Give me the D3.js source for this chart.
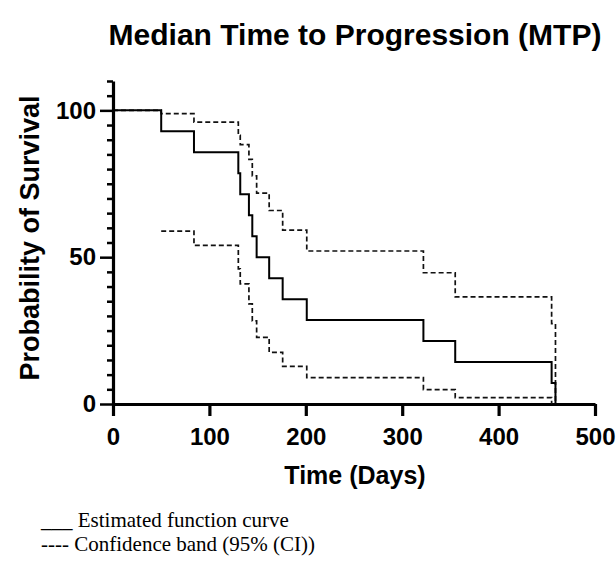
<!DOCTYPE html>
<html>
<head>
<meta charset="utf-8">
<script src="https://cdn.jsdelivr.net/npm/d3@7"></script>
<style>
  body { margin: 0; background: #fff; }
  .axis text { font-family: "Liberation Sans", Arial, sans-serif; font-weight: bold; font-size: 24px; fill: #000; }
</style>
</head>
<body>
<div id="chart"></div>
<script>
// step times (days) and survival values
let times = [0, 50, 84, 130, 132, 141, 144.5, 149, 162, 176, 201, 322, 355, 455, 459];
let estimate = [100, 92.86, 85.71, 78.57, 71.43, 64.29, 57.14, 50, 42.86, 35.71, 28.57, 21.43, 14.29, 7.14, 0];
let upperBand = [100, 98.9, 96.0, 91.5, 88.3, 83.3, 77.7, 71.8, 65.9, 59.2, 52.1, 44.7, 36.5, 27.4, 0];
let lowerBand = [null, 58.9, 54.0, 46.0, 40.9, 34.1, 28.3, 22.7, 17.6, 12.8, 9.0, 4.9, 2.2, 0, null];
let xTicks = [0, 100, 200, 300, 400, 500];
let yTicks = d3.range(0, 111, 5);
let yLabels = [0, 50, 100];

let W = 616, H = 561;

let svg = d3.select("#chart").append("svg")
  .attr("width", W)
  .attr("height", H);

let xScale = d3.scaleLinear().domain([0, 500]).range([113, 595]);
let yScale = d3.scaleLinear().domain([0, 110]).range([404, 81]);

// title
svg.append("text")
  .text("Median Time to Progression (MTP)")
  .attr("x", 355)
  .attr("y", 45)
  .attr("text-anchor", "middle")
  .style("font-family", "'Liberation Sans', Arial, sans-serif")
  .style("font-weight", "bold")
  .style("font-size", "30px");

// x axis
let xAxis = d3.axisBottom(xScale).tickValues(xTicks).tickSize(12).tickSizeOuter(0).tickPadding(12);
let xAxisGroup = svg.append("g")
  .attr("class", "axis")
  .attr("transform", "translate(0," + yScale(0) + ")")
  .call(xAxis);
xAxisGroup.selectAll("line, path").attr("stroke", "#000").attr("stroke-width", 3.2);

// y axis
let yAxis = d3.axisLeft(yScale).tickValues(yTicks).tickSizeOuter(0)
  .tickFormat(d => yLabels.includes(d) ? d : "");
let yAxisGroup = svg.append("g")
  .attr("class", "axis")
  .attr("transform", "translate(" + xScale(0) + ",0)")
  .call(yAxis);
yAxisGroup.selectAll("path").attr("stroke", "#000").attr("stroke-width", 3.2);
yAxisGroup.selectAll(".tick line")
  .attr("stroke", "#000")
  .attr("stroke-width", 2.5)
  .attr("x2", d => yLabels.includes(d) ? -13 : -6);
yAxisGroup.selectAll(".tick text").attr("x", -17);

// axis titles
svg.append("text")
  .text("Time (Days)")
  .attr("x", 355)
  .attr("y", 484)
  .attr("text-anchor", "middle")
  .style("font-family", "'Liberation Sans', Arial, sans-serif")
  .style("font-weight", "bold")
  .style("font-size", "25px");

svg.append("text")
  .text("Probability of Survival")
  .attr("transform", "translate(39,238) rotate(-90)")
  .attr("text-anchor", "middle")
  .style("font-family", "'Liberation Sans', Arial, sans-serif")
  .style("font-weight", "bold")
  .style("font-size", "27px");

// curves
let points = function(values){
  return times.map((t, i) => ({t: t, v: values[i]}));
};
let stepLine = d3.line()
  .defined(d => d.v != null)
  .x(d => xScale(d.t))
  .y(d => yScale(d.v))
  .curve(d3.curveStepAfter);

svg.append("path")
  .datum(points(upperBand))
  .attr("d", stepLine)
  .attr("fill", "none")
  .attr("stroke", "#111")
  .attr("stroke-width", 1.7)
  .attr("stroke-dasharray", "5,3");

svg.append("path")
  .datum(points(lowerBand))
  .attr("d", stepLine)
  .attr("fill", "none")
  .attr("stroke", "#111")
  .attr("stroke-width", 1.7)
  .attr("stroke-dasharray", "5,3");

svg.append("path")
  .datum(points(estimate))
  .attr("d", stepLine)
  .attr("fill", "none")
  .attr("stroke", "#000")
  .attr("stroke-width", 2);

// legend notes
let legend = svg.append("g")
  .style("font-family", "'Liberation Serif', 'Times New Roman', serif")
  .style("font-size", "21px");
legend.append("text").text("___ Estimated function curve").attr("x", 41).attr("y", 527);
legend.append("text").text("---- Confidence band (95% (CI))").attr("x", 41).attr("y", 551);
</script>
</body>
</html>
